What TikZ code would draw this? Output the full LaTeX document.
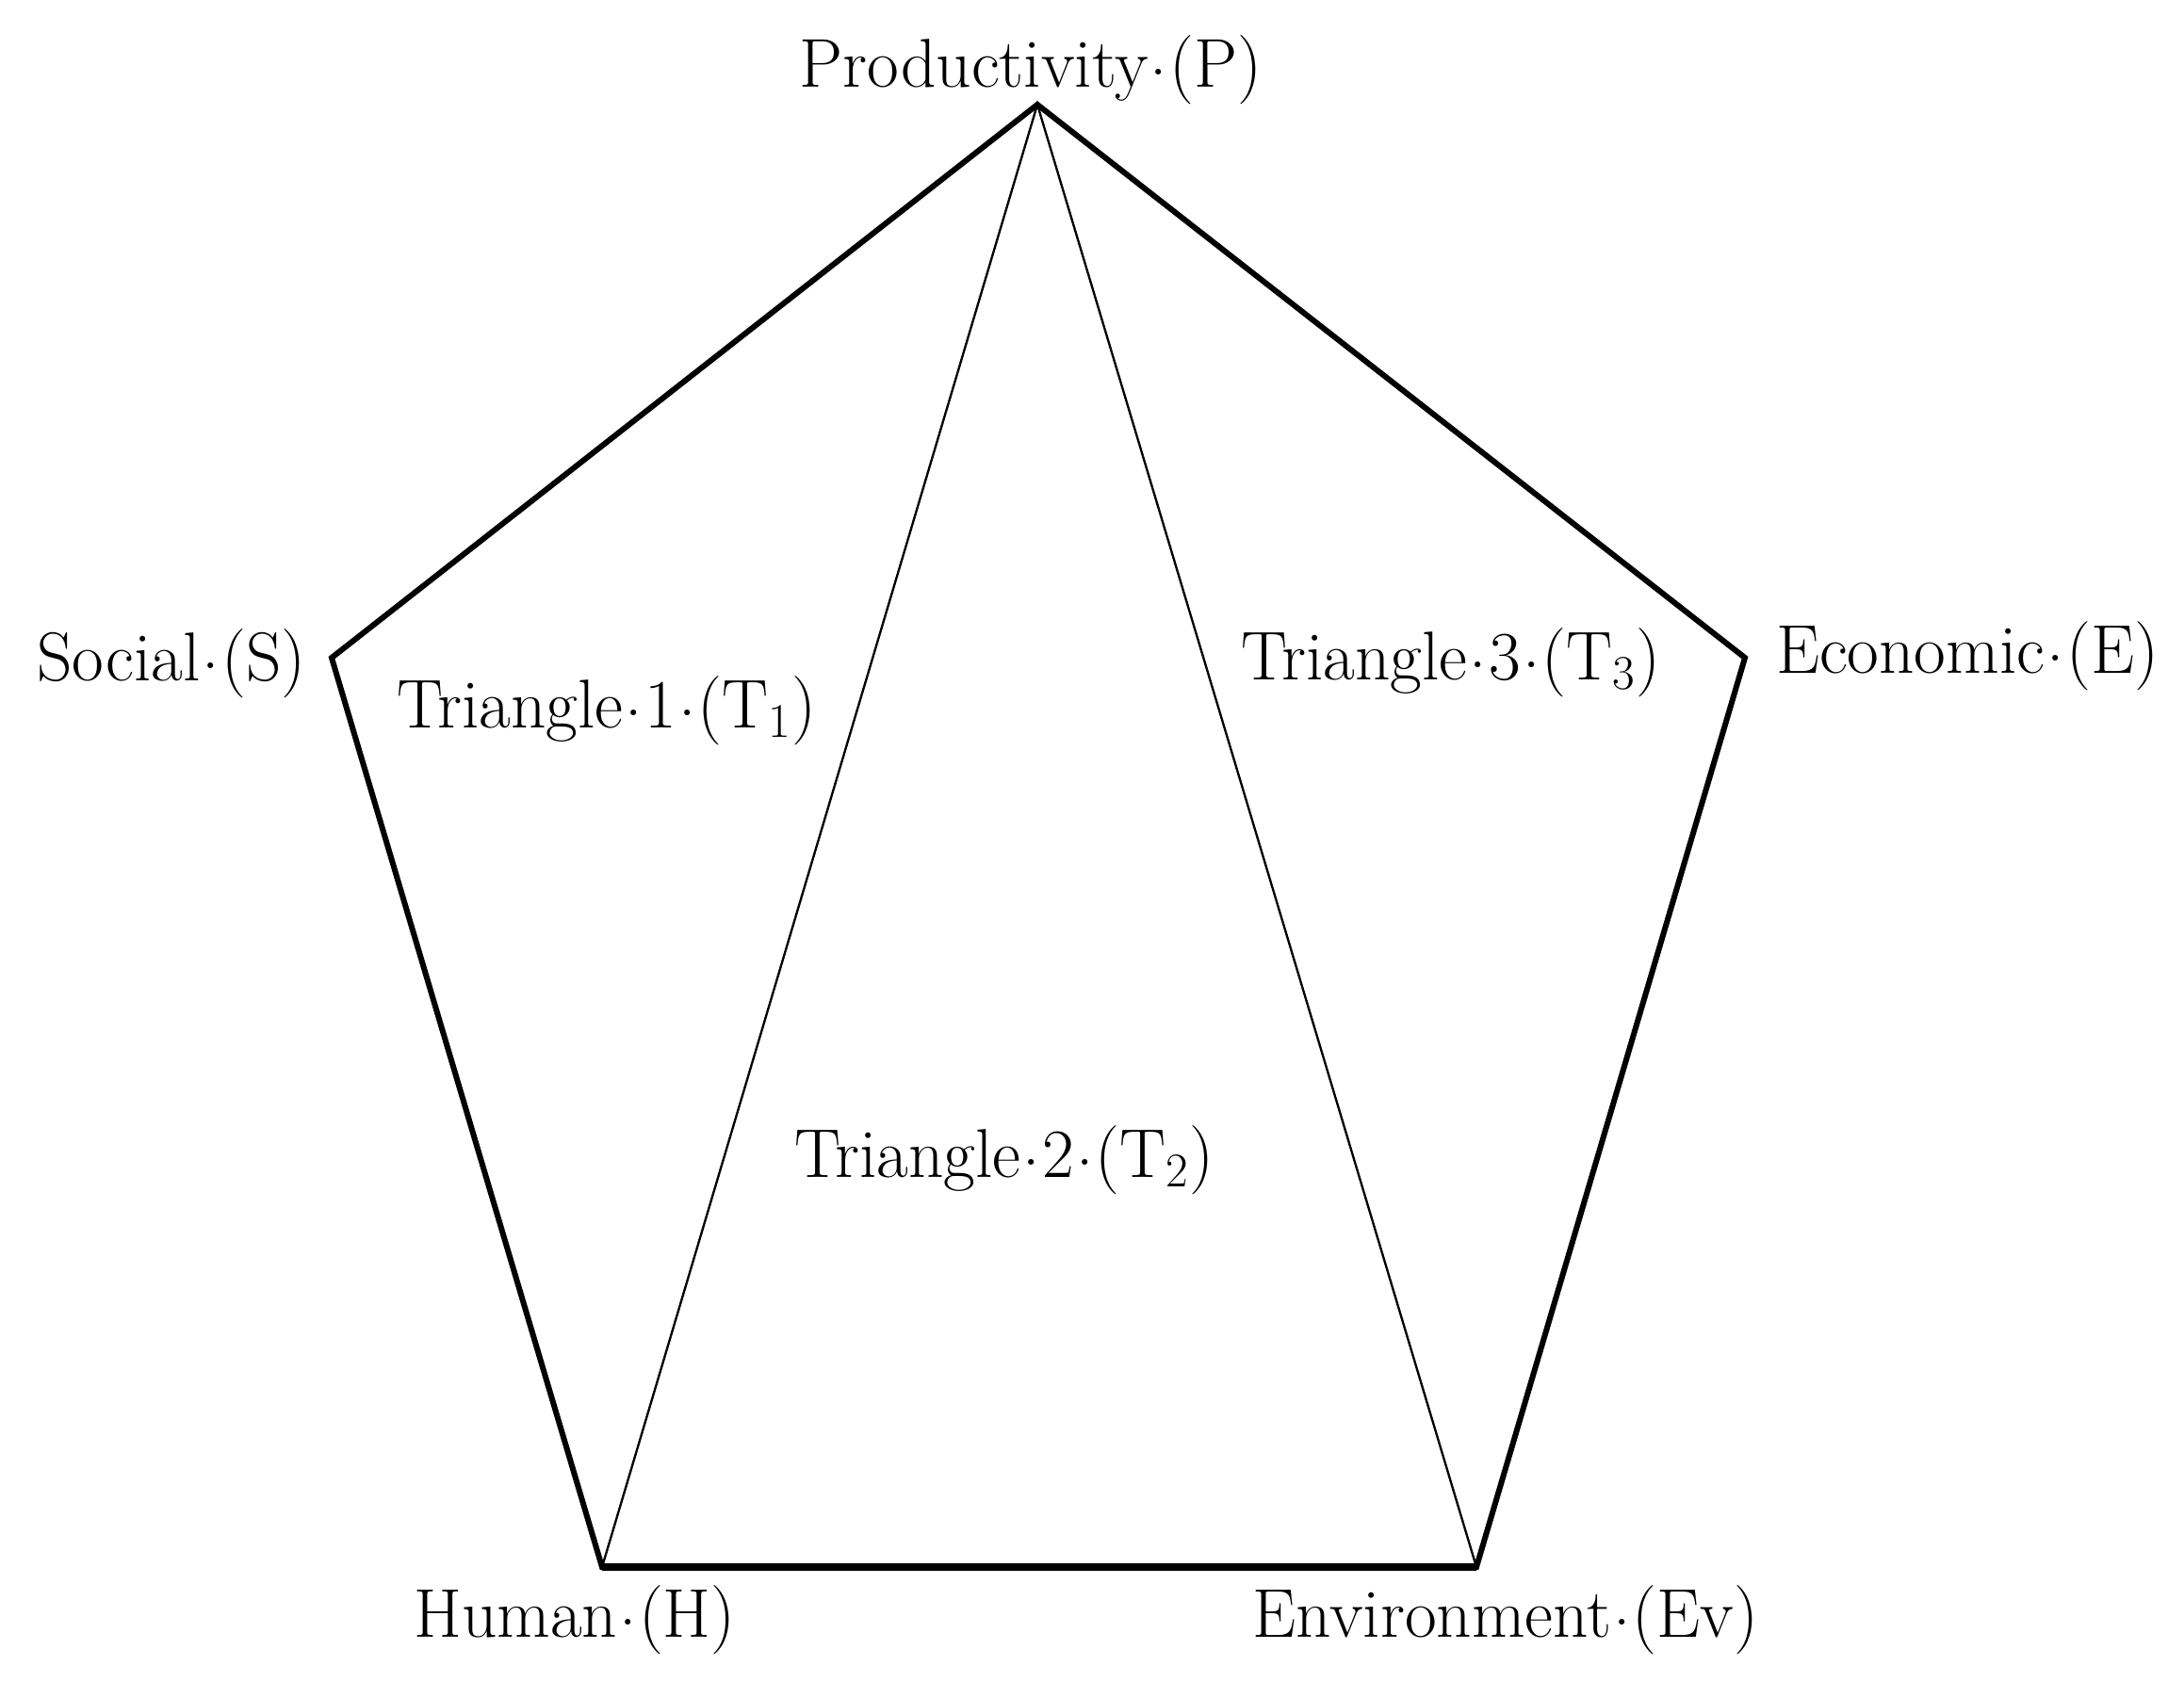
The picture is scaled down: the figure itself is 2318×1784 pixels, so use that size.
\documentclass[tikz,border=0pt]{standalone}
\newcommand\mdot{\kern0.03em\raisebox{0.17em}{.}\kern0.03em}
\begin{document}
\begin{tikzpicture}[x=0.3pt,y=-0.3pt,
  lbl/.style={inner sep=0pt, anchor=base, font=\fontsize{22}{26}\selectfont},
  outer/.style={line width=1.8pt, line join=miter},
  base/.style={line width=2.2pt},
  inner/.style={line width=0.7pt}]
\useasboundingbox (0,0) rectangle (2318,1784);
\coordinate (P) at (1101,111);
\coordinate (S) at (352,698);
\coordinate (E) at (1852,698);
\coordinate (H) at (639,1663);
\coordinate (Ev) at (1567,1663);
\draw[inner] (H) -- (P) -- (Ev);
\draw[outer] (P) -- (E) -- (Ev) -- (H) -- (S) -- cycle;
\draw[base] (H) -- (Ev);
\node[lbl] (lP) at (1094,92) {Productivity\mdot(P)};
\node[lbl] (lS) at (182,722) {Social\mdot(S)};
\node[lbl] (lE) at (2088,714) {Economic\mdot(E)};
\node[lbl] (lT1) at (644,772) {Triangle\mdot1\mdot(T\textsubscript{1})};
\node[lbl] (lT3) at (1540,721) {Triangle\mdot3\mdot(T\textsubscript{3})};
\node[lbl] (lT2) at (1066,1249) {Triangle\mdot2\mdot(T\textsubscript{2})};
\node[lbl] (lH) at (610,1737) {Human\mdot(H)};
\node[lbl] (lEv) at (1598,1737) {Environment\mdot(Ev)};
\end{tikzpicture}
\end{document}
